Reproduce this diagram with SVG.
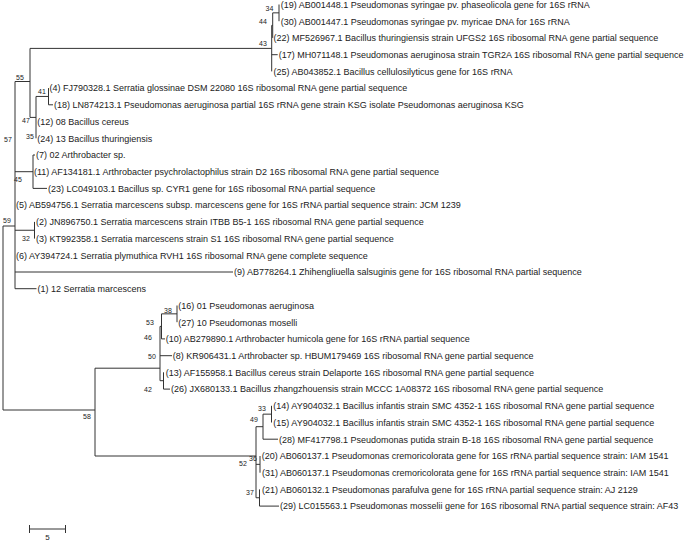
<svg xmlns="http://www.w3.org/2000/svg" width="685" height="541" viewBox="0 0 685 541">
<style>
.br{stroke:#333;stroke-width:1;fill:none}
.lf{font-family:"Liberation Sans",Arial,sans-serif;font-size:9px;fill:#222}
.bs{font-family:"Liberation Sans",Arial,sans-serif;font-size:7px;fill:#222;text-anchor:middle}
</style>
<rect width="685" height="541" fill="#fff"/>
<g id="branches" class="br">
<path d="M3,226V410M3,226H15M3,410H95"/>
<path d="M15,81.5V288.7"/>
<path d="M15,81.5H30M30,48.4V117.4"/>
<path d="M30,48.4H271.7M271.7,25.4V71.4M271.7,25.4H272.7M272.7,12.85V37.9M272.7,12.85H279M279,4.5V21.2M271.7,54.7H277.7"/>
<path d="M30,117.4H36M36,96.45V138.3M36,96.45H48.5M48.5,88.1V104.8M48.5,104.8H53"/>
<path d="M15,171.7H33M33,155V188.4M33,155H35M33,188.4H47"/>
<path d="M15,230.25H34.5M34.5,221.9V238.6"/>
<path d="M15,272H233M15,288.7H36.5"/>
<path d="M95,368.2V456M95,368.2H160"/>
<path d="M160,326.4V380.7M160,326.4H161.5M161.5,313.85V338.9M161.5,313.85H177M177,305.5V322.2M161.5,338.9H165M160,355.7H172M160,380.7H163.5M163.5,372.3V389.1M163.5,389.1H170"/>
<path d="M95,456H256M256,426.7V497.75M256,426.7H263M263,414.15V439.2M263,414.15H271.5M271.5,405.8V422.5M263,439.2H278M256,464.35H260M260,456V472.7M256,497.75H259.5M259.5,489.4V506.1M259.5,506.1H279"/>
</g>
<g id="leaves" class="lf">
<g id="n19"><text x="280.7" y="7.8">(19) AB001448.1 Pseudomonas syringae pv. phaseolicola gene for 16S rRNA</text></g>
<g id="n30"><text x="280.7" y="24.5">(30) AB001447.1 Pseudomonas syringae pv. myricae DNA for 16S rRNA</text></g>
<g id="n22"><text x="273.5" y="41.2">(22) MF526967.1 Bacillus thuringiensis strain UFGS2 16S ribosomal RNA gene partial sequence</text></g>
<g id="n17"><text x="278.7" y="58">(17) MH071148.1 Pseudomonas aeruginosa strain TGR2A 16S ribosomal RNA gene partial sequence</text></g>
<g id="n25"><text x="273.5" y="74.7">(25) AB043852.1 Bacillus cellulosilyticus gene for 16S rRNA</text></g>
<g id="n4"><text x="49.5" y="91.4">(4) FJ790328.1 Serratia glossinae DSM 22080 16S ribosomal RNA gene partial sequence</text></g>
<g id="n18"><text x="54" y="108.1">(18) LN874213.1 Pseudomonas aeruginosa partial 16S rRNA gene strain KSG isolate Pseudomonas aeruginosa KSG</text></g>
<g id="n12"><text x="37.3" y="124.8">(12) 08 Bacillus cereus</text></g>
<g id="n24"><text x="37.3" y="141.6">(24) 13 Bacillus thuringiensis</text></g>
<g id="n7"><text x="36" y="158.3">(7) 02 Arthrobacter sp.</text></g>
<g id="n11"><text x="34" y="175">(11) AF134181.1 Arthrobacter psychrolactophilus strain D2 16S ribosomal RNA gene partial sequence</text></g>
<g id="n23"><text x="48" y="191.7">(23) LC049103.1 Bacillus sp. CYR1 gene for 16S ribosomal RNA partial sequence</text></g>
<g id="n5"><text x="16" y="208.4">(5) AB594756.1 Serratia marcescens subsp. marcescens gene for 16S rRNA partial sequence strain: JCM 1239</text></g>
<g id="n2"><text x="36" y="225.2">(2) JN896750.1 Serratia marcescens strain ITBB B5-1 16S ribosomal RNA gene partial sequence</text></g>
<g id="n3"><text x="36" y="241.9">(3) KT992358.1 Serratia marcescens strain S1 16S ribosomal RNA gene partial sequence</text></g>
<g id="n6"><text x="16" y="258.6">(6) AY394724.1 Serratia plymuthica RVH1 16S ribosomal RNA gene complete sequence</text></g>
<g id="n9"><text x="234" y="275.3">(9) AB778264.1 Zhihengliuella salsuginis gene for 16S ribosomal RNA partial sequence</text></g>
<g id="n1"><text x="37.5" y="292">(1) 12 Serratia marcescens</text></g>
<g id="n16"><text x="178.3" y="308.8">(16) 01 Pseudomonas aeruginosa</text></g>
<g id="n27"><text x="178.3" y="325.5">(27) 10 Pseudomonas moselli</text></g>
<g id="n10"><text x="165.7" y="342.2">(10) AB279890.1 Arthrobacter humicola gene for 16S rRNA partial sequence</text></g>
<g id="n8"><text x="172.7" y="359">(8) KR906431.1 Arthrobacter sp. HBUM179469 16S ribosomal RNA gene partial sequence</text></g>
<g id="n13"><text x="165.7" y="375.6">(13) AF155958.1 Bacillus cereus strain Delaporte 16S ribosomal RNA gene partial sequence</text></g>
<g id="n26"><text x="171" y="392.4">(26) JX680133.1 Bacillus zhangzhouensis strain MCCC 1A08372 16S ribosomal RNA gene partial sequence</text></g>
<g id="n14"><text x="273.3" y="409.1">(14) AY904032.1 Bacillus infantis strain SMC 4352-1 16S ribosomal RNA gene partial sequence</text></g>
<g id="n15"><text x="273.3" y="425.8">(15) AY904032.1 Bacillus infantis strain SMC 4352-1 16S ribosomal RNA gene partial sequence</text></g>
<g id="n28"><text x="279" y="442.5">(28) MF417798.1 Pseudomonas putida strain B-18 16S ribosomal RNA gene partial sequence</text></g>
<g id="n20"><text x="261.7" y="459.3">(20) AB060137.1 Pseudomonas cremoricolorata gene for 16S rRNA partial sequence strain: IAM 1541</text></g>
<g id="n31"><text x="262" y="476">(31) AB060137.1 Pseudomonas cremoricolorata gene for 16S rRNA partial sequence strain: IAM 1541</text></g>
<g id="n21"><text x="262" y="492.7">(21) AB060132.1 Pseudomonas parafulva gene for 16S rRNA partial sequence strain: AJ 2129</text></g>
<g id="n29"><text x="280" y="509.4">(29) LC015563.1 Pseudomonas mosselii gene for 16S ribosomal RNA partial sequence strain: AF43</text></g>
</g>
<g id="bootstrap" class="bs">
<g id="b34"><text x="269.5" y="10.5">34</text></g>
<g id="b44"><text x="263" y="23.5">44</text></g>
<g id="b43"><text x="263" y="45.5">43</text></g>
<g id="b55"><text x="20" y="79.5">55</text></g>
<g id="b41"><text x="42" y="93.5">41</text></g>
<g id="b47"><text x="26" y="122.5">47</text></g>
<g id="b35"><text x="30" y="138.5">35</text></g>
<g id="b57"><text x="8" y="141.5">57</text></g>
<g id="b45"><text x="18" y="181.5">45</text></g>
<g id="b59"><text x="7" y="222.5">59</text></g>
<g id="b32"><text x="26" y="240.5">32</text></g>
<g id="b38"><text x="168" y="312.5">38</text></g>
<g id="b53"><text x="150" y="324.5">53</text></g>
<g id="b46"><text x="148" y="339.5">46</text></g>
<g id="b50"><text x="152" y="358.5">50</text></g>
<g id="b42"><text x="148" y="391.5">42</text></g>
<g id="b58"><text x="87" y="419">58</text></g>
<g id="b33"><text x="262" y="411">33</text></g>
<g id="b49"><text x="254" y="421.5">49</text></g>
<g id="b52"><text x="243" y="465.5">52</text></g>
<g id="b36"><text x="253" y="460.5">36</text></g>
<g id="b37"><text x="250" y="494.5">37</text></g>
</g>
<g id="scalebar">
<path class="br" d="M29.5,529H65.5M29.5,525V533M65.5,525V533"/>
<text x="47.5" y="540" style="font-family:'Liberation Sans',Arial,sans-serif;font-size:8px;fill:#222;text-anchor:middle">5</text>
</g>
</svg>
